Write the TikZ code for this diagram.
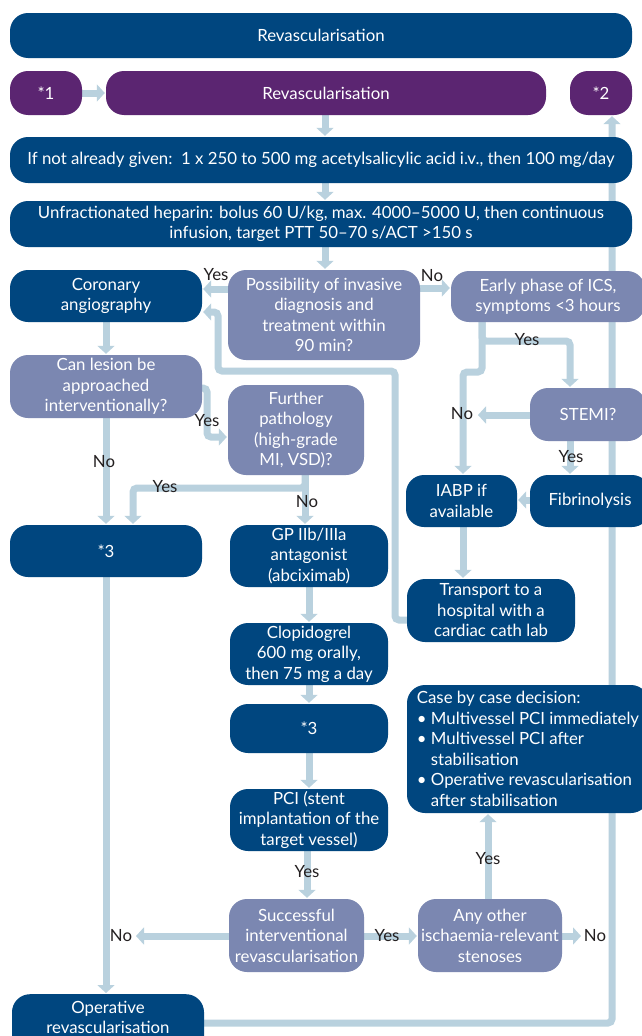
\documentclass[tikz,border=0pt]{standalone}
\usepackage{fontspec}
\setmainfont{Lato}
\usetikzlibrary{arrows.meta}
\definecolor{dblue}{HTML}{00467F}
\definecolor{vpurple}{HTML}{5B2571}
\definecolor{slate}{HTML}{7B87B1}
\definecolor{conn}{HTML}{B9D1DE}
\definecolor{lblc}{HTML}{231F20}
\newcommand{\boxfont}{\fontsize{16.8}{20.5}\selectfont}
\pgfdeclarelayer{back}
\pgfdeclarelayer{bg}
\pgfsetlayers{back,bg,main}
\begin{document}
\begin{tikzpicture}[x=1pt,y=-1pt,
  box/.style={rectangle, rounded corners=18pt, inner sep=0pt, align=center, text=white, font=\boxfont},
  dbox/.style={box, fill=dblue},
  pbox/.style={box, fill=vpurple},
  sbox/.style={box, fill=slate},
  arr/.style={draw=conn, line width=7pt, rounded corners=4pt, shorten >=1pt, -{Triangle[width=17pt,length=8pt]}},
  lbl/.style={inner sep=0pt, text=lblc, font=\boxfont}]
\begin{pgfonlayer}{back}
\fill[white] (0,0) rectangle (642,1036);
\end{pgfonlayer}
\useasboundingbox (0,0) rectangle (642,1036);

% nodes
\node[dbox, minimum width=622, minimum height=45] (top) at (321,35.5) {Revascularisation};
\node[pbox, minimum width=72, minimum height=44] (s1) at (46,93) {*1};
\node[pbox, minimum width=440, minimum height=44] (revp) at (326,93) {Revascularisation};
\node[pbox, minimum width=62, minimum height=44] (s2) at (601,93) {*2};
\node[dbox, minimum width=622, minimum height=46] (asa) at (321,160) {If not already given:\ \ 1 x 250 to 500 mg acetylsalicylic acid i.v., then 100 mg/day};
\node[dbox, minimum width=622, minimum height=46] (hep) at (321,224) {Unfractionated heparin: bolus 60 U/kg, max. 4000–5000 U, then continuous\\infusion, target PTT 50–70 s/ACT >150 s};
\node[dbox, minimum width=192, minimum height=52] (cor) at (106,296) {Coronary\\angiography};
\node[sbox, minimum width=192, minimum height=90] (poss) at (324,315) {Possibility of invasive\\diagnosis and\\treatment within\\90 min?};
\node[sbox, minimum width=194, minimum height=51] (early) at (548,296.5) {Early phase of ICS,\\symptoms <3 hours};
\node[sbox, minimum width=192, minimum height=63] (can) at (106,386.5) {Can lesion be\\approached\\interventionally?};
\node[sbox, minimum width=136, minimum height=90] (fur) at (296,430) {Further\\pathology\\(high-grade\\MI, VSD)?};
\node[sbox, minimum width=116, minimum height=53] (stemi) at (588,414.5) {STEMI?};
\node[dbox, minimum width=120, minimum height=52] (fib) at (590,501) {Fibrinolysis};
\node[dbox, minimum width=111, minimum height=52] (iabp) at (461.5,501) {IABP if\\available};
\node[dbox, minimum width=192, minimum height=52] (star3L) at (106,551) {*3};
\node[dbox, minimum width=158, minimum height=62] (gp) at (309,556) {GP IIb/IIIa\\antagonist\\(abciximab)};
\node[dbox, minimum width=168, minimum height=63] (trans) at (491,610.5) {Transport to a\\hospital with a\\cardiac cath lab};
\node[dbox, minimum width=158, minimum height=62] (clop) at (309,654) {Clopidogrel\\600 mg orally,\\then 75 mg a day};
\node[dbox, minimum width=158, minimum height=49] (star3M) at (309,728.5) {*3};
\node[dbox, minimum width=242, minimum height=128, align=left] (case) at (528,749) {Case by case decision:\\• Multivessel PCI immediately\\• Multivessel PCI after\\\phantom{• }stabilisation\\• Operative revascularisation\\\phantom{• }after stabilisation};
\node[dbox, minimum width=158, minimum height=62] (pci) at (309,820) {PCI (stent\\implantation of the\\target vessel)};
\node[sbox, minimum width=135, minimum height=73] (succ) at (296.5,935.5) {Successful\\interventional\\revascularisation};
\node[sbox, minimum width=144, minimum height=73] (any) at (490,935.5) {Any other\\ischaemia-relevant\\stenoses};
\node[dbox, minimum width=192, anchor=north] (oper) at (108,994) {\rule{0pt}{19pt}Operative\\revascularisation\rule[-40pt]{0pt}{40pt}};

\coordinate (noS) at (477,415);
\coordinate (noA) at (135,936);
\coordinate (noB) at (582,936);

% connectors
\begin{pgfonlayer}{bg}
\draw[arr] (s1.east) -- (revp.west);
\draw[arr] (revp.south -| 325,0) -- (asa.north -| 325,0);
\draw[arr] (asa.south -| 325,0) -- (hep.north -| 325,0);
\draw[arr] (hep.south -| 325,0) -- (poss.north -| 325,0);
\draw[arr] (poss.west |- 0,289) -- (cor.east |- 0,289);
\draw[arr] (poss.east |- 0,288) -- (early.west |- 0,288);
\draw[arr] (trans.west |- 0,620) -| (395,371) -| (218,312) -- (cor.east |- 0,312);
\draw[arr] (cor.south) -- (can.north);
\draw[arr] (can.east |- 0,388) -| (207,437) -- (fur.west |- 0,437);
\draw[arr] (can.south) -- (star3L.north);
\draw[arr] (fur.south -| 305,0) -- (gp.north -| 305,0);
\draw[arr] (fur.south -| 305,0) |- (133,488) -- (star3L.north -| 133,0);
\draw[arr] (early.south -| 482,0) |- (463,372) -- (iabp.north -| 463,0);
\draw[arr] (early.south -| 482,0) |- (570,341) -- (stemi.north -| 570,0);
\draw[arr] (stemi.west |- 0,415) -- (noS);
\draw[arr] (stemi.south -| 570,0) -- (fib.north -| 570,0);
\draw[arr] (fib.west |- 0,500) -- (iabp.east |- 0,500);
\draw[arr] (iabp.south -| 463,0) -- (trans.north -| 463,0);
\draw[arr] (gp.south) -- (clop.north);
\draw[arr] (clop.south) -- (star3M.north);
\draw[arr] (star3M.south) -- (pci.north);
\draw[arr] (pci.south -| 307,0) -- (succ.north -| 307,0);
\draw[arr] (succ.west |- 0,936) -- (noA);
\draw[arr] (succ.east |- 0,936) -- (any.west |- 0,936);
\draw[arr] (any.east |- 0,936) -- (noB);
\draw[arr] (any.north -| 488,0) -- (case.south -| 488,0);
\draw[arr] (star3L.south) -- (oper.north -| 106,0);
\draw[arr] (oper.east |- 0,1023) -| (s2.south -| 612,0);
\end{pgfonlayer}

% labels
\node[lbl] (l1) at (216,275) {Yes};
\node[lbl] (l2) at (432,276) {No};
\node[lbl] (l3) at (207,421) {Yes};
\node[lbl] (l4) at (104,462) {No};
\node[lbl] (l5) at (165,487) {Yes};
\node[lbl] (l6) at (307,502) {No};
\node[lbl] (l7) at (527,340) {Yes};
\node[lbl] (l8) at (462,414) {No};
\node[lbl] (l9) at (571,457) {Yes};
\node[lbl] (l10) at (307,872) {Yes};
\node[lbl] (l11) at (121,936) {No};
\node[lbl] (l12) at (387,936) {Yes};
\node[lbl] (l13) at (595,936) {No};
\node[lbl] (l14) at (488,859) {Yes};
\end{tikzpicture}
\end{document}
